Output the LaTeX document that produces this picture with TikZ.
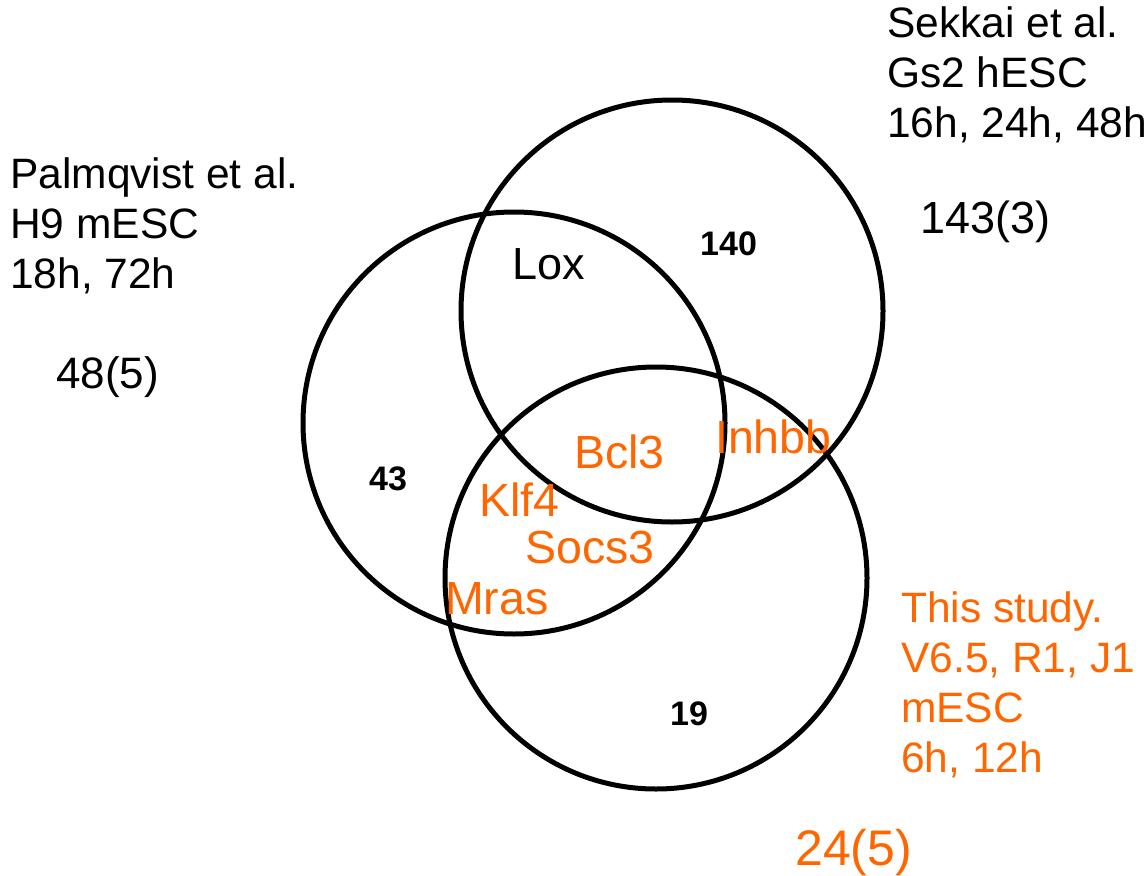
\documentclass[tikz,border=0pt]{standalone}
\usepackage{fontspec}
\setmainfont{Liberation Sans}
\definecolor{orng}{RGB}{255,102,0}
\begin{document}
\begin{tikzpicture}[x=1pt,y=-1pt,
  venn/.style={draw=black, line width=5pt, circle, minimum size=422pt, inner sep=0pt},
  lbl/.style={anchor=base west, inner sep=0pt, align=left},
  big/.style={font=\fontsize{42.5}{50}\selectfont},
  gene/.style={lbl, text=orng, font=\fontsize{46.5}{50}\selectfont},
  cnt/.style={lbl, font=\fontsize{34}{40}\selectfont\bfseries}]
\useasboundingbox (0,0) rectangle (1145,875);
\node[venn] (left) at (514,423) {};
\node[venn] (top) at (672,311) {};
\node[venn] (bottom) at (656,578) {};

\node[lbl, big] (pal) at (10,288) {Palmqvist et al.\\H9 mESC\\18h, 72h};
\node[lbl, font=\fontsize{44}{50}\selectfont] (palnum) at (56,388) {48(5)};
\node[lbl, big] (sek) at (887,137) {Sekkai et al.\\Gs2 hESC\\16h, 24h, 48h};
\node[lbl, font=\fontsize{45}{50}\selectfont] (seknum) at (920,233) {143(3)};
\node[lbl, big, text=orng] (this) at (901,772) {This study.\\V6.5, R1, J1\\mESC\\6h, 12h};
\node[lbl, text=orng, font=\fontsize{50}{56}\selectfont] (thisnum) at (795,865) {24(5)};

\node[lbl, font=\fontsize{45}{50}\selectfont] (lox) at (512,279) {Lox};
\node[cnt] (n140) at (700,255) {140};
\node[cnt] (n43) at (369,490) {43};
\node[cnt] (n19) at (670,725) {19};

\node[gene] (bcl3) at (574,468) {Bcl3};
\node[gene] (inhbb) at (715,453) {Inhbb};
\node[gene] (klf4) at (479,516) {Klf4};
\node[gene] (socs3) at (525,563) {Socs3};
\node[gene] (mras) at (445,614) {Mras};
\end{tikzpicture}
\end{document}
